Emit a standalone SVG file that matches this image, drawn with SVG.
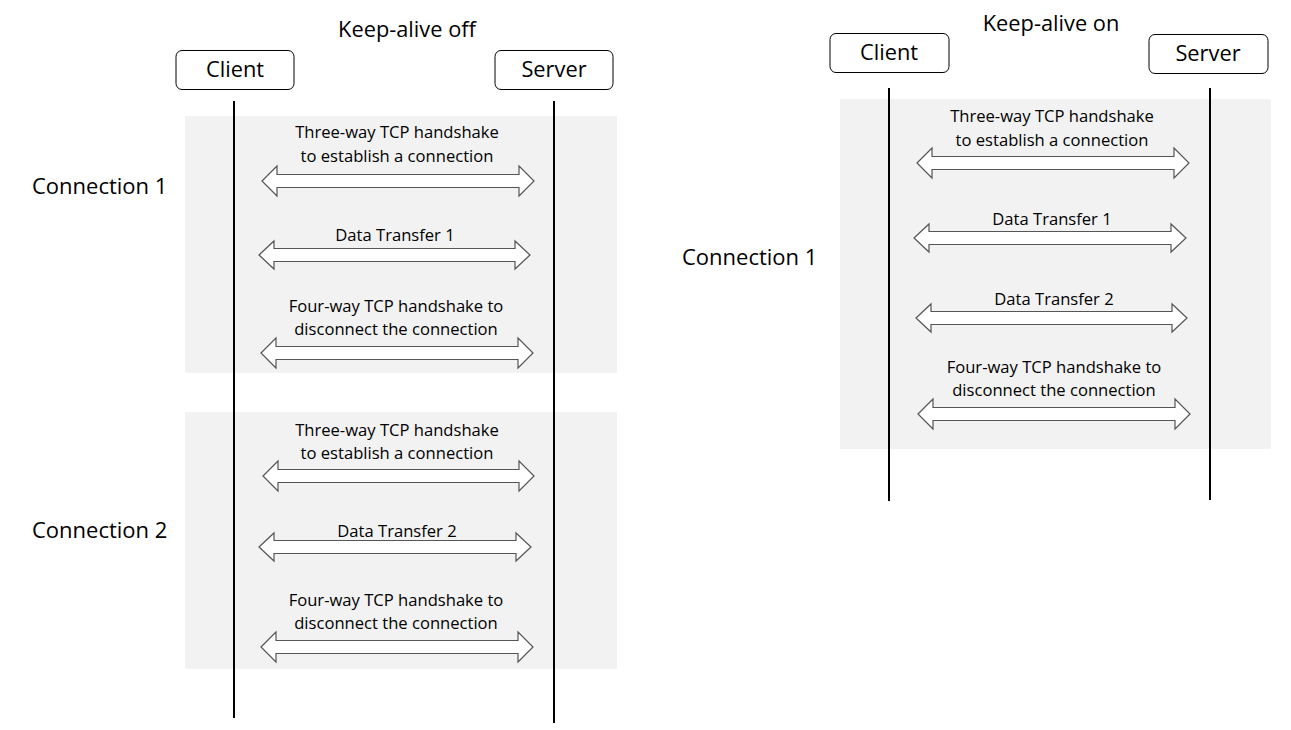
<svg xmlns="http://www.w3.org/2000/svg" width="1291" height="730" viewBox="0 0 1291 730">
<style>
.bg{fill:#ffffff}
.panel{fill:#f2f2f2}
.box{fill:#ffffff;stroke:#000000;stroke-width:1}
.life{stroke:#000000;stroke-width:2}
.arr{fill:#ffffff;stroke:#555555;stroke-width:1.2}
text{font-family:"Open Sans","Liberation Sans",sans-serif;fill:#000000;text-anchor:middle}
.t{font-size:21.8px}
.s{font-size:16.6px}
.c{font-size:22px;text-anchor:start}
</style>
<rect class="bg" x="0" y="0" width="1291" height="730"/>
<g id="panels">
<rect class="panel" x="185" y="116" width="432" height="257"/>
<rect class="panel" x="185" y="412" width="432" height="257"/>
<rect class="panel" x="840" y="99" width="431" height="350"/>
</g>
<g id="titles">
<text class="t" x="407" y="37">Keep-alive off</text>
<text class="t" x="1051" y="31">Keep-alive on</text>
</g>
<g id="labels">
<text class="c" x="32" y="194">Connection 1</text>
<text class="c" x="32" y="538">Connection 2</text>
<text class="c" x="682" y="265">Connection 1</text>
</g>
<g id="client-left">
<rect class="box" x="176" y="50.5" width="118" height="39" rx="6"/>
<text class="t" x="235" y="77">Client</text>
<line class="life" x1="234" y1="101" x2="234" y2="718"/>
</g>
<g id="server-left">
<rect class="box" x="495" y="50.5" width="118" height="39" rx="6"/>
<text class="t" x="554" y="77">Server</text>
<line class="life" x1="554" y1="101" x2="554" y2="723"/>
</g>
<g id="client-right">
<rect class="box" x="830" y="33.5" width="119" height="39" rx="6"/>
<text class="t" x="889" y="60">Client</text>
<line class="life" x1="889" y1="88" x2="889" y2="501"/>
</g>
<g id="server-right">
<rect class="box" x="1149" y="34.5" width="119" height="39" rx="6"/>
<text class="t" x="1208" y="61">Server</text>
<line class="life" x1="1210" y1="88" x2="1210" y2="500"/>
</g>
<g id="message-labels">
<text class="s" x="397" y="138">Three-way TCP handshake</text>
<text class="s" x="397" y="162">to establish a connection</text>
<text class="s" x="395" y="241">Data Transfer 1</text>
<text class="s" x="396" y="312">Four-way TCP handshake to</text>
<text class="s" x="396" y="335">disconnect the connection</text>
<text class="s" x="397" y="436">Three-way TCP handshake</text>
<text class="s" x="397" y="459">to establish a connection</text>
<text class="s" x="397" y="537">Data Transfer 2</text>
<text class="s" x="396" y="606">Four-way TCP handshake to</text>
<text class="s" x="396" y="629">disconnect the connection</text>
<text class="s" x="1052" y="122">Three-way TCP handshake</text>
<text class="s" x="1052" y="146">to establish a connection</text>
<text class="s" x="1052" y="225">Data Transfer 1</text>
<text class="s" x="1054" y="305">Data Transfer 2</text>
<text class="s" x="1054" y="373">Four-way TCP handshake to</text>
<text class="s" x="1054" y="396">disconnect the connection</text>
</g>
<g id="connectors">
<polygon class="arr" points="262,181 277,166 277,174.5 519,174.5 519,166 534,181 519,196 519,187.5 277,187.5 277,196"/>
<polygon class="arr" points="259,255 274,241 274,248.5 515,248.5 515,241 530,255 515,269 515,261.5 274,261.5 274,269"/>
<polygon class="arr" points="261,353 276,338 276,346.5 518,346.5 518,338 533,353 518,368 518,359.5 276,359.5 276,368"/>
<polygon class="arr" points="263,476 278,461 278,469.5 519,469.5 519,461 534,476 519,491 519,482.5 278,482.5 278,491"/>
<polygon class="arr" points="259,547 274,533 274,540.5 516,540.5 516,533 531,547 516,561 516,553.5 274,553.5 274,561"/>
<polygon class="arr" points="261,647 276,632 276,640.5 518,640.5 518,632 533,647 518,662 518,653.5 276,653.5 276,662"/>
<polygon class="arr" points="917,163 932,148 932,156.5 1174,156.5 1174,148 1189,163 1174,178 1174,169.5 932,169.5 932,178"/>
<polygon class="arr" points="914,238 929,224 929,231.5 1171,231.5 1171,224 1186,238 1171,252 1171,244.5 929,244.5 929,252"/>
<polygon class="arr" points="916,318 931,304 931,311.5 1172,311.5 1172,304 1187,318 1172,332 1172,324.5 931,324.5 931,332"/>
<polygon class="arr" points="918,414 933,399 933,407.5 1175,407.5 1175,399 1190,414 1175,429 1175,420.5 933,420.5 933,429"/>
</g>
</svg>
